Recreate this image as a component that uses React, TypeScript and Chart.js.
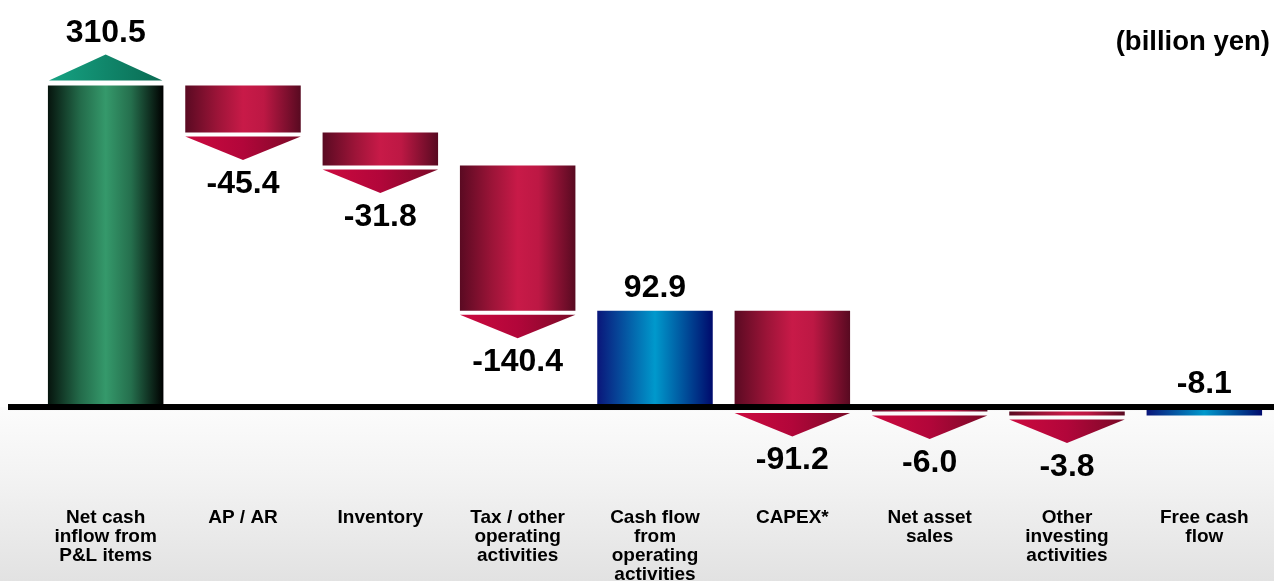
import React, { useEffect, useRef } from "react";
import { Chart, registerables } from "chart.js";

Chart.register(...registerables);

const categories: string[][] = [
  ["Net cash", "inflow from", "P&L items"],
  ["AP / AR"],
  ["Inventory"],
  ["Tax / other", "operating", "activities"],
  ["Cash flow", "from", "operating", "activities"],
  ["CAPEX*"],
  ["Net asset", "sales"],
  ["Other", "investing", "activities"],
  ["Free cash", "flow"],
];
const values = [310.5, -45.4, -31.8, -140.4, 92.9, -91.2, -6.0, -3.8, -8.1];
const kinds = ["start", "change", "change", "change", "subtotal", "change", "change", "change", "subtotal"];
const unitLabel = "(billion yen)";

const FONT = "'Liberation Sans', Arial, Helvetica, sans-serif";
const BAR_PCT = 0.841;

function floating(): [number, number][] {
  let run = 0;
  return values.map((v, i) => {
    const k = kinds[i];
    if (k === "change") {
      const r: [number, number] = [run + v, run];
      run += v;
      return r;
    }
    run = v;
    return [0, v];
  });
}
const ranges = floating();

function barGradient(c: any) {
  const chart = c.chart;
  const xs = chart.scales && chart.scales.x;
  const k = kinds[c.dataIndex];
  const fallback = k === "start" ? "#33996a" : k === "subtotal" ? "#0099cc" : "#c81a48";
  if (!xs || !chart.chartArea) return fallback;
  const cx = xs.getPixelForValue(c.dataIndex);
  const half = (xs.width / categories.length) * BAR_PCT / 2;
  const g = chart.ctx.createLinearGradient(cx - half, 0, cx + half, 0);
  if (k === "start") {
    g.addColorStop(0, "#06140d");
    g.addColorStop(0.28, "#236b4a");
    g.addColorStop(0.5, "#35996b");
    g.addColorStop(0.72, "#256f4d");
    g.addColorStop(1, "#000000");
  } else if (k === "subtotal") {
    g.addColorStop(0, "#0a167a");
    g.addColorStop(0.5, "#0099cc");
    g.addColorStop(1, "#000a6c");
  } else {
    g.addColorStop(0, "#5a0a22");
    g.addColorStop(0.28, "#9c1438");
    g.addColorStop(0.5, "#c81a48");
    g.addColorStop(0.68, "#bd1844");
    g.addColorStop(1, "#580a21");
  }
  return g;
}

const backgroundPlugin = {
  id: "bgPlugin",
  beforeDraw(chart: any) {
    const { ctx, width, height } = chart;
    const zy = chart.scales.y.getPixelForValue(0);
    ctx.save();
    ctx.fillStyle = "#ffffff";
    ctx.fillRect(0, 0, width, height);
    const g = ctx.createLinearGradient(0, zy, 0, height);
    g.addColorStop(0, "#fcfcfc");
    g.addColorStop(0.4, "#f3f3f3");
    g.addColorStop(1, "#e2e2e2");
    ctx.fillStyle = g;
    ctx.fillRect(0, zy, width, height - zy);
    ctx.restore();
  },
};

const decorPlugin = {
  id: "decorPlugin",
  afterDatasetsDraw(chart: any) {
    const { ctx, width } = chart;
    const ys = chart.scales.y;
    const zy = ys.getPixelForValue(0);
    ctx.save();
    // baseline
    ctx.fillStyle = "#000000";
    ctx.fillRect(8, zy - 3, width - 8, 6);

    const meta = chart.getDatasetMeta(0);
    ctx.font = `bold 32px ${FONT}`;
    ctx.textAlign = "center";
    ctx.textBaseline = "middle";
    meta.data.forEach((el: any, i: number) => {
      const x = el.x;
      const w = el.width;
      const pa = ys.getPixelForValue(ranges[i][0]);
      const pb = ys.getPixelForValue(ranges[i][1]);
      const top = Math.min(pa, pb);
      const bottom = Math.max(pa, pb);
      const left = x - w / 2;
      const right = x + w / 2;
      const k = kinds[i];
      const txt = values[i].toFixed(1);
      if (k === "start") {
        const b = top - 5;
        const apex = b - 26;
        const g = ctx.createLinearGradient(left, 0, right, 0);
        g.addColorStop(0, "#16a383");
        g.addColorStop(1, "#0a6a52");
        ctx.fillStyle = g;
        ctx.beginPath();
        ctx.moveTo(left + 1, b);
        ctx.lineTo(x, apex);
        ctx.lineTo(right - 1, b);
        ctx.closePath();
        ctx.fill();
        ctx.fillStyle = "#000000";
        ctx.fillText(txt, x, apex - 21);
      } else if (k === "change") {
        const t = (bottom < zy - 3 ? bottom : Math.max(bottom, zy + 2)) + 4;
        const tip = t + 23.5;
        const g = ctx.createLinearGradient(left, 0, right, 0);
        g.addColorStop(0, "#cc0a3f");
        g.addColorStop(0.5, "#b2063a");
        g.addColorStop(1, "#7a0a27");
        ctx.fillStyle = g;
        ctx.beginPath();
        ctx.moveTo(left, t);
        ctx.lineTo(right, t);
        ctx.lineTo(x, tip);
        ctx.closePath();
        ctx.fill();
        ctx.fillStyle = "#000000";
        ctx.fillText(txt, x, tip + 24);
      } else {
        ctx.fillStyle = "#000000";
        ctx.fillText(txt, x, top - 23);
      }
    });

    // unit label
    ctx.font = `bold 27.5px ${FONT}`;
    ctx.textAlign = "right";
    ctx.textBaseline = "middle";
    ctx.fillStyle = "#000000";
    ctx.fillText(unitLabel, 1270, 42);
    ctx.restore();
  },
};

export default function App() {
  const ref = useRef<HTMLCanvasElement>(null);
  useEffect(() => {
    if (!ref.current) return;
    const chart = new Chart(ref.current, {
      type: "bar",
      data: {
        labels: categories,
        datasets: [
          {
            data: ranges as any,
            backgroundColor: barGradient as any,
            borderWidth: 0,
            barPercentage: BAR_PCT,
            categoryPercentage: 1,
          },
        ],
      },
      options: {
        responsive: true,
        maintainAspectRatio: false,
        animation: false,
        layout: { padding: { left: 37, right: 1, top: 0, bottom: 0 } },
        plugins: {
          legend: { display: false },
          tooltip: { enabled: false },
          title: { display: false },
        },
        scales: {
          x: {
            offset: true,
            grid: { display: false, drawTicks: false },
            border: { display: false },
            ticks: {
              autoSkip: false,
              maxRotation: 0,
              minRotation: 0,
              padding: 13.5,
              color: "#000000",
              font: { family: FONT, size: 19, weight: "bold", lineHeight: 1 },
            },
            afterFit: (s: any) => {
              s.height = 86;
            },
          },
          y: {
            display: false,
            min: -85,
            max: 393.2,
          },
        },
      },
      plugins: [backgroundPlugin, decorPlugin],
    });
    return () => chart.destroy();
  }, []);
  return (
    <div style={{ position: "absolute", left: 0, top: 0, width: 1274, height: 581 }}>
      <canvas ref={ref} />
    </div>
  );
}
